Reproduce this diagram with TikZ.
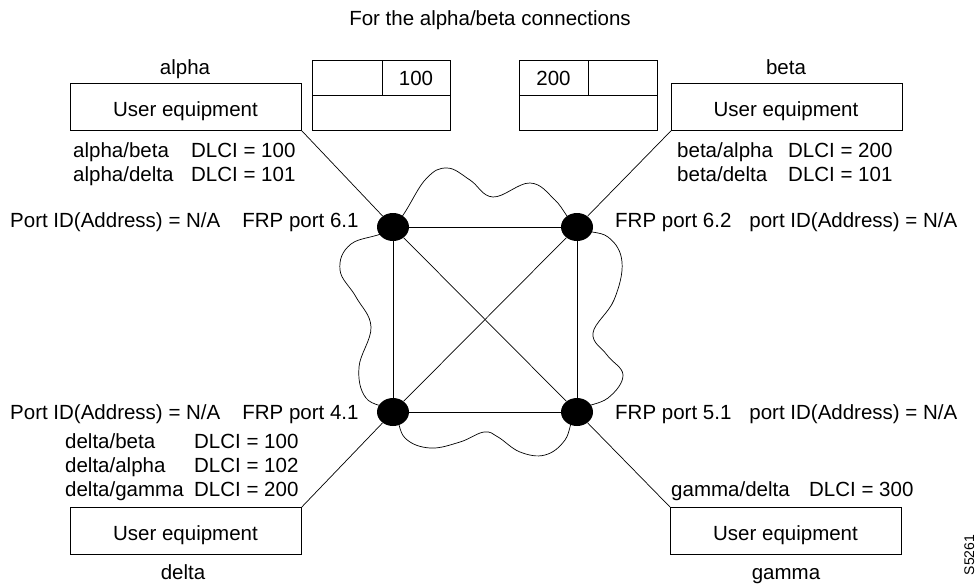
\documentclass[tikz,border=0pt]{standalone}
\usepackage{fontspec}
\setmainfont{Liberation Sans}
\usetikzlibrary{shapes.geometric}
\begin{document}
\begin{tikzpicture}[x=1pt,y=-1pt,
  txt/.style={inner sep=0pt,anchor=base,font=\fontsize{20.5}{24}\selectfont},
  txtw/.style={txt,anchor=base west},
  uebox/.style={draw,line width=0.8pt,minimum width=231pt,minimum height=47pt,inner sep=0pt,anchor=north west},
  port/.style={ellipse,fill=black,minimum width=32pt,minimum height=28pt,inner sep=0pt},
  wire/.style={line width=0.7pt},
  tbl/.style={line width=0.8pt}]
\useasboundingbox (0,0) rectangle (976,584);

% title
\node[txt] (title) at (490,25) {For the alpha/beta connections};

% cloud
\draw[wire] plot[smooth cycle, tension=0.65] coordinates {
  (393,227) (425,180) (447,168) (470,180) (493,197) (530,183) (555,200)
  (577,227) (608,237) (622,262) (614,300) (593,333) (607,355) (623,375) (608,398)
  (577,412) (565,440) (545,455) (520,452) (498,437) (484,432) (460,442) (430,448) (405,438)
  (393,412) (366,398) (359,367) (371,327) (356,297) (340,270) (351,244)};

% switch ports
\node[port] (n61) at (393,227) {};
\node[port] (n62) at (577,227) {};
\node[port] (n41) at (393,412) {};
\node[port] (n51) at (577,412) {};

% user equipment boxes
\node[uebox] (abox) at (70,83) {};
\node[uebox] (bbox) at (671,83) {};
\node[uebox] (dbox) at (70,507) {};
\node[uebox] (gbox) at (670,507) {};
\node[txt] (atxt) at (185.5,116.7) {User equipment};
\node[txt] (btxt) at (786,116.7) {User equipment};
\node[txt] (dtxt) at (185.5,540) {User equipment};
\node[txt] (gtxt) at (785.5,540) {User equipment};

\node[txt] (alab) at (185,74) {alpha};
\node[txt] (blab) at (786,74) {beta};
\node[txt] (dlab) at (183,579) {delta};
\node[txt] (glab) at (786,579) {gamma};

% mesh
\draw[wire] (n61) -- (n62);
\draw[wire] (n61) -- (n41);
\draw[wire] (n62) -- (n51);
\draw[wire] (n41) -- (n51);
\draw[wire] (n61) -- (n51);
\draw[wire] (n62) -- (n41);

% access lines
\draw[wire] (abox.south east) -- (n61);
\draw[wire] (bbox.south west) -- (n62);
\draw[wire] (dbox.north east) -- (n41);
\draw[wire] (gbox.north west) -- (n51);

% DLCI tables
\node[txtw] (adlci) at (73,157) {\begin{tabular}[t]{@{}p{118pt}@{}l@{}}alpha/beta & DLCI = 100\\ alpha/delta & DLCI = 101\end{tabular}};
\node[txtw] (bdlci) at (677,157) {\begin{tabular}[t]{@{}p{111pt}@{}l@{}}beta/alpha & DLCI = 200\\ beta/delta & DLCI = 101\end{tabular}};
\node[txtw] (ddlci) at (65,448) {\begin{tabular}[t]{@{}p{129pt}@{}l@{}}delta/beta & DLCI = 100\\ delta/alpha & DLCI = 102\\ delta/gamma & DLCI = 200\end{tabular}};
\node[txtw] (gdlci) at (671,496.5) {\begin{tabular}[t]{@{}p{138pt}@{}l@{}}gamma/delta & DLCI = 300\end{tabular}};

% port labels
\node[txtw] (p61) at (10,227) {Port ID(Address) = N/A\hspace{22pt}FRP port 6.1};
\node[txtw] (p62) at (615,227) {FRP port 6.2\hspace{18pt}port ID(Address) = N/A};
\node[txtw] (p41) at (10,419) {Port ID(Address) = N/A\hspace{22pt}FRP port 4.1};
\node[txtw] (p51) at (615,419) {FRP port 5.1\hspace{18pt}port ID(Address) = N/A};

% frame tables at top
\draw[tbl] (312,60) rectangle (450,130);
\draw[tbl] (312,95) -- (450,95);
\draw[tbl] (382,60) -- (382,95);
\node[txt] (t100) at (416,85) {100};
\draw[tbl] (519,60) rectangle (657,130);
\draw[tbl] (519,95) -- (657,95);
\draw[tbl] (588,60) -- (588,95);
\node[txt] (t200) at (553.5,85) {200};

% figure id
\node[inner sep=0pt,anchor=base,rotate=90,font=\fontsize{14}{16}\selectfont] (fig) at (974,555) {S5261};
\end{tikzpicture}
\end{document}
